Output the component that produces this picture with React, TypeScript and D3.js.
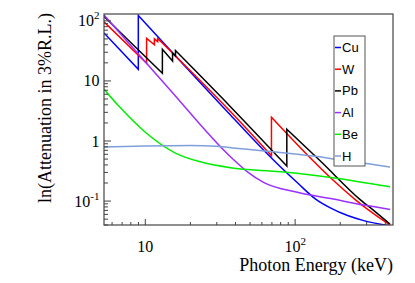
import React from 'react';
import * as d3 from 'd3';

// energies in keV, attenuation values (edges = repeated energy)
const cuEnergy = [5.3, 8.98, 8.98, 37, 61.5, 80, 104, 137, 173, 224, 287, 430];
const cuValue = [63, 15.6, 123, 2.71, 0.708, 0.369, 0.2, 0.108, 0.0764, 0.0574, 0.0473, 0.039];

const wEnergy = [5.3, 10.2, 10.2, 11.5, 11.5, 12.1, 12.1, 37, 69.5, 69.5, 173, 254, 330, 430];
const wValue = [96, 19.7, 51, 40, 50, 45, 51, 3.1, 0.569, 2.48, 0.242, 0.104, 0.063, 0.04];

const pbEnergy = [5.3, 13.0, 13.0, 15.2, 15.2, 15.9, 15.9, 37, 88.0, 88.0, 148, 274, 345, 430];
const pbValue = [118, 13.4, 33.8, 21.5, 29, 26.1, 32, 3.73, 0.383, 1.57, 0.46, 0.104, 0.0656, 0.0414];

const alEnergy = [5.3, 14.3, 37, 47.8, 61.5, 103.5, 173, 286, 430];
const alValue = [125, 7.56, 0.547, 0.31, 0.205, 0.14, 0.11, 0.0858, 0.0727];

const beEnergy = [5.3, 6.8, 10, 15.9, 23.3, 37, 80, 173, 430];
const beValue = [7.27, 3.6, 1.4, 0.63, 0.45, 0.359, 0.308, 0.248, 0.173];

const hEnergy = [5.3, 10, 20, 30, 40, 60, 100, 150, 200, 300, 430];
const hValue = [0.794, 0.825, 0.841, 0.815, 0.76, 0.69, 0.607, 0.541, 0.482, 0.422, 0.369];

const names = ['Cu', 'W', 'Pb', 'Al', 'Be', 'H'];
const colors = ['#0000ff', '#ff0000', '#000000', '#9b30ff', '#00ee00', '#7f9fdc'];
const energies = [cuEnergy, wEnergy, pbEnergy, alEnergy, beEnergy, hEnergy];
const values = [cuValue, wValue, pbValue, alValue, beValue, hValue];

const yLabels = [
  { v: 100, base: '10', exp: '2' },
  { v: 10, base: '10', exp: '' },
  { v: 1, base: '1', exp: '' },
  { v: 0.1, base: '10', exp: '-1' },
];
const xLabels = [
  { v: 10, base: '10', exp: '' },
  { v: 100, base: '10', exp: '2' },
];

const W = 415;
const H = 283;
const left = 104, right = 393, top = 14, bottom = 225;

const x = d3.scaleLog().domain([5.3, 450]).range([left, right]);
const y = d3.scaleLog().domain([0.04, 130]).range([bottom, top]);

const line = d3
  .line<[number, number]>()
  .x(d => x(d[0]))
  .y(d => y(d[1]))
  .curve(d3.curveMonotoneX);

// split at absorption edges so the jumps stay vertical
function buildPath(energy: number[], value: number[]) {
  const pts: [number, number][] = energy.map((e, i) => [e, value[i]]);
  const segs: [number, number][][] = [];
  let cur = [pts[0]];
  for (let i = 1; i < pts.length; i++) {
    if (pts[i][0] === pts[i - 1][0]) {
      segs.push(cur);
      cur = [pts[i]];
    } else cur.push(pts[i]);
  }
  segs.push(cur);
  return segs
    .map((s, i) => {
      const d = line(s) || '';
      return i === 0 ? d : 'L' + d.slice(1);
    })
    .join('');
}

const isMajor = (v: number) => Math.abs(Math.log10(v) - Math.round(Math.log10(v))) < 1e-6;

export default function App() {
  const serif = '"Liberation Serif", "Times New Roman", serif';
  const sans = '"Liberation Sans", Arial, sans-serif';

  return (
    <svg
      width={W}
      height={H}
      style={{ position: 'absolute', left: 0, top: 0, background: '#fff' }}
    >
      <defs>
        <clipPath id="frame">
          <rect x={left} y={top} width={right - left} height={bottom - top} />
        </clipPath>
      </defs>

      <g clipPath="url(#frame)">
        {names.map((n, i) => (
          <path
            key={n}
            d={buildPath(energies[i], values[i])}
            fill="none"
            stroke={colors[i]}
            strokeWidth={1.5}
            strokeLinejoin="miter"
          />
        ))}
      </g>

      {/* frame */}
      <rect
        x={left}
        y={top}
        width={right - left}
        height={bottom - top}
        fill="none"
        stroke="#444"
        strokeWidth={1.2}
      />

      {/* y ticks */}
      {y.ticks().map((t, i) => (
        <line
          key={'yt' + i}
          x1={left}
          x2={left + (isMajor(t) ? 7 : 4)}
          y1={y(t)}
          y2={y(t)}
          stroke="#444"
          strokeWidth={1}
        />
      ))}
      {/* x ticks */}
      {x.ticks().map((t, i) => (
        <line
          key={'xt' + i}
          x1={x(t)}
          x2={x(t)}
          y1={bottom}
          y2={bottom - (isMajor(t) ? 6 : 3)}
          stroke="#444"
          strokeWidth={1}
        />
      ))}

      {yLabels.map(l => (
        <text
          key={'yl' + l.v}
          x={99.5}
          y={y(l.v) + 5.5}
          textAnchor="end"
          fontFamily={serif}
          fontSize={16}
          fill="#000"
        >
          <tspan>{l.base}</tspan>
          {l.exp && (
            <tspan dy={-7} fontSize={11}>
              {l.exp}
            </tspan>
          )}
        </text>
      ))}

      {xLabels.map(l => (
        <text
          key={'xl' + l.v}
          x={x(l.v)}
          y={252}
          textAnchor="middle"
          fontFamily={serif}
          fontSize={16}
          fill="#000"
        >
          <tspan>{l.base}</tspan>
          {l.exp && (
            <tspan dy={-7} fontSize={11}>
              {l.exp}
            </tspan>
          )}
        </text>
      ))}

      <text
        x={right}
        y={271}
        textAnchor="end"
        fontFamily={serif}
        fontSize={18}
        fill="#000"
      >
        Photon Energy (keV)
      </text>
      <text
        transform="translate(50.5,13) rotate(-90)"
        textAnchor="end"
        fontFamily={serif}
        fontSize={18}
        fill="#000"
      >
        ln(Attenuation in 3%R.L.)
      </text>

      {/* legend */}
      <rect x={334} y={36} width={31} height={130} fill="#fff" stroke="#555" strokeWidth={1} />
      {names.map((n, i) => {
        const ly = 47.5 + i * 21.7;
        return (
          <g key={'lg' + n}>
            <line x1={335} x2={341} y1={ly} y2={ly} stroke={colors[i]} strokeWidth={1.5} />
            <text x={342} y={ly + 4.5} fontFamily={sans} fontSize={13} fill="#000">
              {n}
            </text>
          </g>
        );
      })}
    </svg>
  );
}
